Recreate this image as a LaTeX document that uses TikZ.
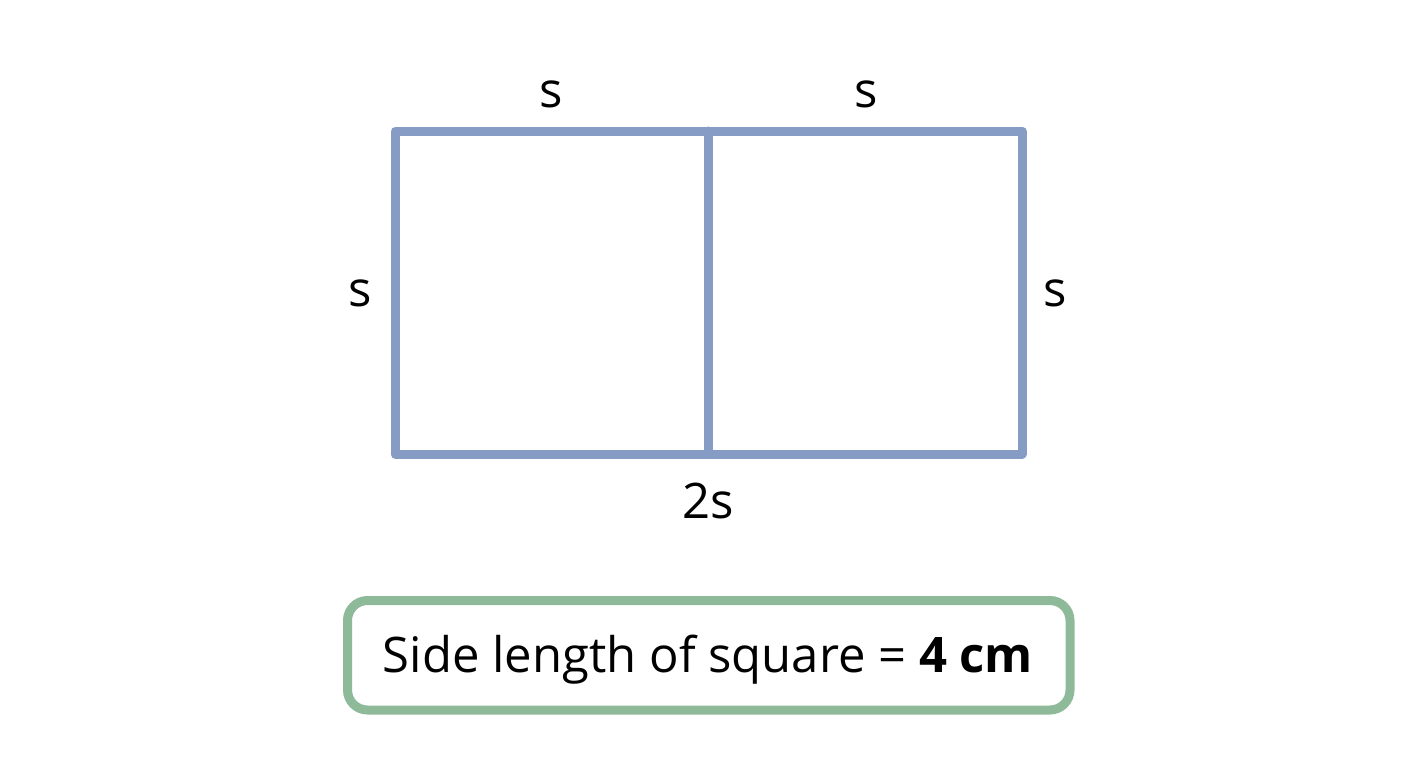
\documentclass[tikz,border=0pt]{standalone}
\usepackage{fontspec}
\setmainfont{Open Sans}
\definecolor{sqblue}{HTML}{869CC4}
\definecolor{boxgreen}{HTML}{8FBA9A}
\begin{document}
\begin{tikzpicture}[x=1pt,y=-1pt,
  edge/.style={draw=sqblue,line width=9pt,line join=round,line cap=round},
  lbl/.style={font=\fontsize{49}{57}\selectfont,inner sep=0pt,anchor=base},
  resbox/.style={draw=boxgreen,line width=9pt,rounded corners=20pt,fill=white}]
\useasboundingbox (0,0) rectangle (1408,768);
\fill[white] (0,0) rectangle (1408,768);
\coordinate (tl) at (395,131);
\coordinate (tm) at (708,131);
\coordinate (tr) at (1022,131);
\coordinate (bl) at (395,454);
\coordinate (bm) at (708,454);
\coordinate (br) at (1022,454);
\draw[edge] (tl) -- (tr) -- (br) -- (bl) -- cycle;
\draw[edge] (tm) -- (bm);
\node[lbl] (s1) at (551,107) {s};
\node[lbl] (s2) at (866,107) {s};
\node[lbl] (s3) at (360,306) {s};
\node[lbl] (s4) at (1055,306) {s};
\node[lbl] (s5) at (708,518) {2s};
\draw[resbox] (347.5,600.5) rectangle (1070,710);
\node[lbl] (res) at (708,672) {Side length of square = \textbf{4 cm}};
\end{tikzpicture}
\end{document}
